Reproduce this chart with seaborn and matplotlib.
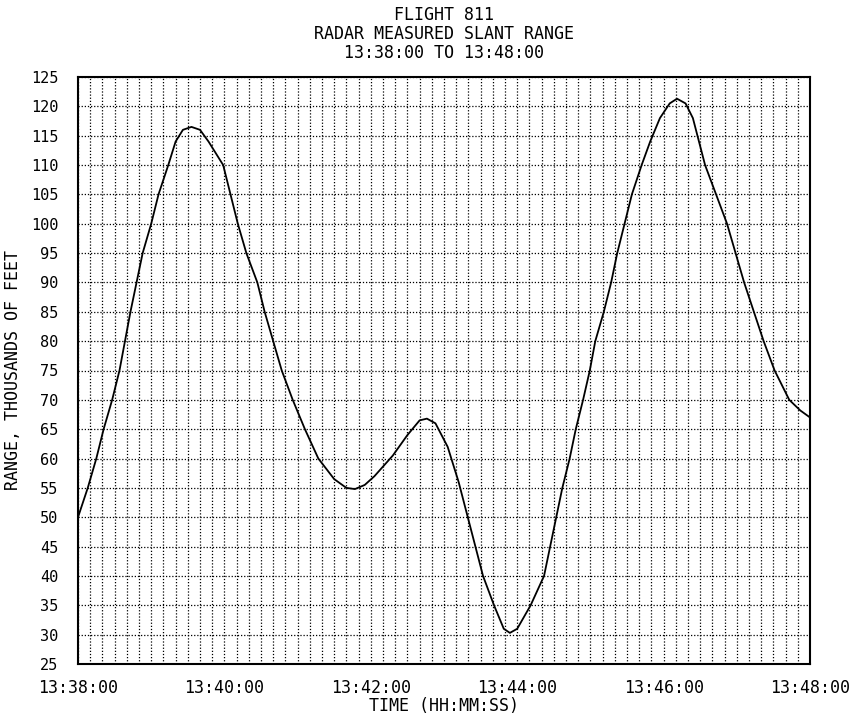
import matplotlib
matplotlib.use("Agg")
import matplotlib.pyplot as plt
import seaborn as sns
import numpy as np
import pandas as pd

# Datos (segundos desde 13:38:00, miles de pies)
tiempo_s = [0, 8, 15, 21, 28, 34, 38.5, 43, 48, 53, 60, 66, 74, 80, 86, 93, 100, 107,
            119, 125, 131, 138, 147, 153, 160, 167, 176, 186, 197, 210, 220, 227, 235,
            243, 258, 270, 280, 286, 293, 303, 312, 322, 332, 341, 349, 354, 360, 371,
            382, 387, 392, 397, 403, 408, 414, 419.5, 424, 431, 437, 442, 448, 454,
            462, 469, 477, 485, 491, 498, 504, 509, 514, 523, 532, 539, 546, 554, 562,
            571, 583, 592, 600]
rango_kft = [50, 55, 60, 65, 70, 75, 80, 85, 90, 95, 100, 105, 110, 114, 116, 116.5, 116, 114,
             110, 105, 100, 95, 90, 85, 80, 75, 70, 65, 60, 56.5, 55, 54.8, 55.5,
             57, 60.5, 64, 66.5, 66.8, 66, 62, 56, 48, 40, 35, 31, 30.3, 31, 35,
             40, 45, 50, 55, 60, 65, 70, 75, 80, 85, 90, 95, 100, 105,
             110, 114, 118, 120.5, 121.3, 120.5, 118, 114, 110, 105, 100, 95, 90, 85, 80,
             75, 70, 68.2, 67]

ticks_x = [0, 120, 240, 360, 480, 600]
etiquetas_x = ["13:38:00", "13:40:00", "13:42:00", "13:44:00", "13:46:00", "13:48:00"]
ticks_y = list(range(25, 126, 5))

df = pd.DataFrame({"t": tiempo_s, "r": rango_kft})

sns.set_style("white")
plt.rcParams["font.family"] = ["DejaVu Sans Mono", "DejaVu Sans"]
plt.rcParams["text.color"] = "black"
plt.rcParams["axes.labelcolor"] = "black"
plt.rcParams["xtick.color"] = "black"
plt.rcParams["ytick.color"] = "black"

fig = plt.figure(figsize=(8.57, 7.16), dpi=100)
ax = fig.add_axes([78 / 857, 1 - 664 / 716, (810 - 78) / 857, (664 - 77) / 716])

sns.lineplot(data=df, x="t", y="r", ax=ax, color="black", linewidth=1.3)

ax.set_xlim(0, 600)
ax.set_ylim(25, 125)
ax.set_xticks(ticks_x)
ax.set_xticklabels(etiquetas_x, fontsize=12)
ax.set_xticks(np.arange(0, 601, 10), minor=True)
ax.set_yticks(ticks_y)
ax.set_yticklabels([str(v) for v in ticks_y], fontsize=11)

# rejilla punteada
ax.grid(True, which="both", axis="x", color="black", linestyle=(0, (1, 1.5)), linewidth=0.9)
ax.grid(True, which="major", axis="y", color="black", linestyle=(0, (1, 1.5)), linewidth=0.9)

ax.tick_params(axis="y", direction="in", length=12, width=1.6, pad=14)
ax.tick_params(axis="x", which="major", direction="in", length=14, width=1.3, pad=11)
ax.tick_params(axis="x", which="minor", length=0)

for s in ax.spines.values():
    s.set_visible(True)
    s.set_color("black")
    s.set_linewidth(1.5)

ax.set_title("FLIGHT 811\nRADAR MEASURED SLANT RANGE\n13:38:00 TO 13:48:00",
             fontsize=12, linespacing=1.05, pad=14)
ax.set_xlabel("TIME (HH:MM:SS)", fontsize=12)
ax.set_ylabel("RANGE, THOUSANDS OF FEET", fontsize=12)
ax.xaxis.set_label_coords(0.5, -0.056)
ax.yaxis.set_label_coords(-0.077, 0.5)

fig.savefig("out.png", dpi=100)
